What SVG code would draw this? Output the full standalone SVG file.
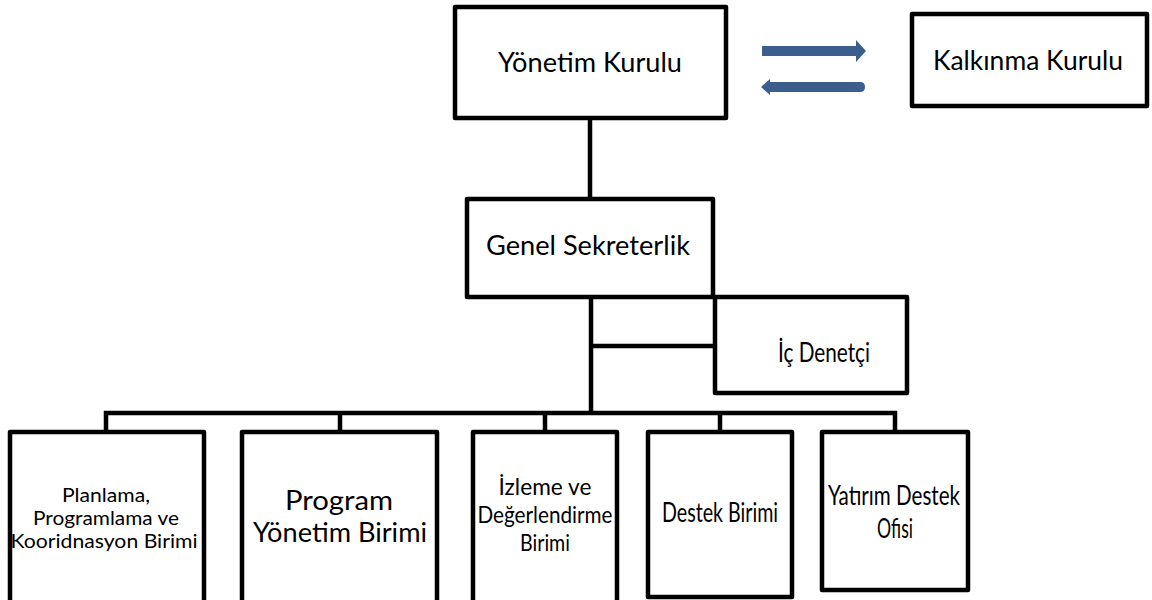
<svg xmlns="http://www.w3.org/2000/svg" width="1152" height="600" viewBox="0 0 1152 600">
<style>
.box{fill:#fff;stroke:#000;stroke-width:4.5;stroke-linejoin:round}
.ln{stroke:#000;stroke-width:4.5;fill:none}
text{font-family:Lato,"Open Sans",sans-serif;fill:#000;text-anchor:middle}
.t26{font-size:26px}
.t23{font-size:23px}
.t18{font-size:18.5px}
.arr{fill:#3B5E8C}
</style>
<rect width="1152" height="600" fill="#fff"/>
<g id="connectors">
<line class="ln" x1="590" y1="118" x2="590" y2="199"/>
<line class="ln" x1="591" y1="297" x2="591" y2="414"/>
<line class="ln" x1="591" y1="346" x2="715" y2="346"/>
<polyline class="ln" points="106,432 106,413 895,413 895,432"/>
<line class="ln" x1="340" y1="413" x2="340" y2="432"/>
<line class="ln" x1="545" y1="413" x2="545" y2="432"/>
<line class="ln" x1="720" y1="413" x2="720" y2="432"/>
<path class="arr" d="M762,46 H856 V40 L866,51 L856,62 V56 H762 Z"/>
<path class="arr" d="M865,87 Q865,82 860,82 H770 V79 L761,87 L770,95 V92 H860 Q865,92 865,87 Z"/>
</g>
<g id="yonetim-kurulu">
<rect class="box" x="455" y="7" width="271" height="111"/>
<text class="t26" x="590" y="72" textLength="184" lengthAdjust="spacingAndGlyphs">Yönetim Kurulu</text>
</g>
<g id="kalkinma-kurulu">
<rect class="box" x="912" y="14" width="235" height="92"/>
<text class="t26" x="1028" y="70" textLength="190" lengthAdjust="spacingAndGlyphs">Kalkınma Kurulu</text>
</g>
<g id="genel-sekreterlik">
<rect class="box" x="467" y="199" width="246" height="98"/>
<text class="t26" x="588" y="255" textLength="204" lengthAdjust="spacingAndGlyphs">Genel Sekreterlik</text>
</g>
<g id="ic-denetci">
<rect class="box" x="715" y="297" width="192" height="96"/>
<text class="t26" x="824" y="362" textLength="92" lengthAdjust="spacingAndGlyphs">İç Denetçi</text>
</g>
<g id="planlama">
<rect class="box" x="10" y="432" width="194" height="180"/>
<text class="t18" x="106" y="502" textLength="88" lengthAdjust="spacingAndGlyphs">Planlama,</text>
<text class="t18" x="106" y="525" textLength="146" lengthAdjust="spacingAndGlyphs">Programlama ve</text>
<text class="t18" x="104" y="548" textLength="187" lengthAdjust="spacingAndGlyphs">Kooridnasyon Birimi</text>
</g>
<g id="program-yonetim">
<rect class="box" x="242" y="432" width="195" height="180"/>
<text class="t26" x="339" y="510" textLength="108" lengthAdjust="spacingAndGlyphs">Program</text>
<text class="t26" x="340" y="542" textLength="174" lengthAdjust="spacingAndGlyphs">Yönetim Birimi</text>
</g>
<g id="izleme">
<rect class="box" x="473" y="432" width="144" height="180"/>
<text class="t23" x="545" y="495" textLength="93" lengthAdjust="spacingAndGlyphs">İzleme ve</text>
<text class="t23" x="545" y="523" textLength="135" lengthAdjust="spacingAndGlyphs">Değerlendirme</text>
<text class="t23" x="545" y="551" textLength="50" lengthAdjust="spacingAndGlyphs">Birimi</text>
</g>
<g id="destek-birimi">
<rect class="box" x="648" y="432" width="144" height="165"/>
<text class="t26" x="720" y="522" textLength="116" lengthAdjust="spacingAndGlyphs">Destek Birimi</text>
</g>
<g id="yatirim-destek">
<rect class="box" x="822" y="432" width="146" height="158"/>
<text class="t26" x="894" y="505" textLength="132" lengthAdjust="spacingAndGlyphs">Yatırım Destek</text>
<text class="t26" x="895" y="538" textLength="36" lengthAdjust="spacingAndGlyphs">Ofisi</text>
</g>
</svg>
